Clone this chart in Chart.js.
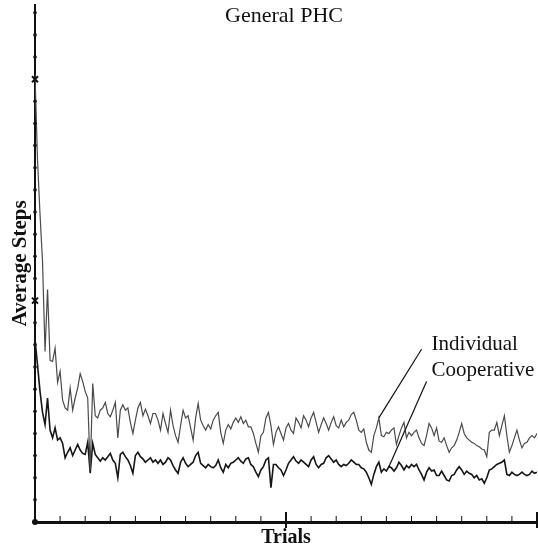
<!DOCTYPE html>
<html>
<head>
<meta charset="utf-8">
<title>General PHC</title>
<script src="https://cdn.jsdelivr.net/npm/chart.js@4.4.0/dist/chart.umd.min.js"></script>
<style>
  html, body { margin: 0; padding: 0; background: #fff; }
  #wrap { width: 538px; height: 552px; }
</style>
</head>
<body>
<div id="wrap"><canvas id="phcChart" width="538" height="552"></canvas></div>
<script>
// --- testi ---
const TITLE = "General PHC";
const X_TITLE = "Trials";
const Y_TITLE = "Average Steps";

// --- dati (un punto per trial) ---
const individual = [
  404, 327, 278, 235, 154, 210, 146, 145, 157, 126, 136, 110, 103, 101, 121, 101, 112, 121, 134, 127,
  118, 112, 47, 125, 96, 94, 101, 103, 108, 98, 95, 101, 108, 76, 101, 106, 101, 103, 90, 80,
  92, 103, 108, 96, 102, 96, 89, 98, 98, 92, 83, 98, 89, 81, 101, 87, 78, 72, 87, 101,
  94, 96, 85, 74, 94, 107, 92, 87, 83, 88, 84, 92, 96, 99, 81, 71, 83, 88, 84, 90,
  94, 90, 95, 89, 92, 86, 86, 80, 71, 63, 78, 81, 94, 99, 87, 70, 81, 86, 80, 74,
  85, 89, 83, 80, 94, 90, 85, 96, 92, 86, 94, 99, 90, 81, 88, 94, 89, 83, 90, 95,
  87, 85, 92, 86, 90, 92, 97, 99, 92, 83, 81, 84, 72, 65, 63, 78, 85, 94, 78, 77,
  81, 80, 83, 85, 70, 78, 85, 90, 76, 81, 78, 81, 83, 76, 71, 69, 78, 89, 85, 78,
  85, 73, 72, 76, 69, 63, 67, 69, 74, 81, 89, 80, 76, 74, 72, 71, 69, 68, 66, 65,
  59, 81, 83, 83, 90, 78, 87, 96, 78, 63, 69, 76, 83, 74, 67, 71, 72, 76, 78, 76,
  80
];
const cooperative = [
  165, 142, 118, 99, 88, 112, 83, 76, 85, 74, 76, 71, 58, 63, 67, 60, 65, 70, 65, 62,
  61, 72, 44, 71, 61, 58, 55, 58, 56, 59, 62, 56, 53, 40, 61, 63, 59, 56, 51, 44,
  60, 63, 59, 57, 54, 56, 58, 54, 56, 53, 56, 52, 54, 58, 56, 51, 47, 44, 54, 58,
  53, 50, 52, 54, 60, 63, 53, 51, 49, 52, 50, 49, 51, 56, 49, 45, 52, 49, 53, 54,
  56, 58, 55, 53, 57, 58, 52, 50, 45, 41, 47, 50, 56, 58, 31, 52, 52, 49, 47, 42,
  47, 53, 56, 59, 55, 53, 56, 54, 52, 50, 56, 59, 52, 49, 52, 53, 58, 60, 57, 54,
  56, 52, 50, 52, 51, 53, 56, 54, 52, 52, 49, 48, 45, 40, 34, 43, 50, 54, 45, 48,
  46, 50, 49, 46, 49, 54, 51, 47, 51, 49, 52, 50, 52, 47, 43, 38, 45, 49, 46, 47,
  42, 42, 46, 42, 38, 37, 42, 43, 47, 50, 47, 43, 46, 44, 43, 40, 42, 38, 39, 35,
  40, 47, 48, 50, 52, 53, 54, 56, 43, 42, 45, 43, 42, 43, 45, 43, 42, 43, 46, 44,
  45
];

// --- assi (nessuna etichetta numerica, solo tacche) ---
const X_MAX = 200, X_STEP = 10, X_MAJOR = 100;
const Y_MAX = 467, Y_STEP = 20, Y_MAJOR = 200;

// etichette con linea di richiamo (coordinate in unità dati)
const callouts = [
  { text: "Individual",  from: [137, individual[137]],  to: [154, 156], at: [158, 155] },
  { text: "Cooperative", from: [141, cooperative[141]], to: [156, 127], at: [158, 132] }
];

const SERIF = '"Liberation Serif", "DejaVu Serif", serif';

// tacche, titolo e richiami disegnati sopra il grafico
const decorPlugin = {
  id: "decor",
  afterDraw(chart){
    const { ctx, chartArea: a, scales: { x, y } } = chart;
    ctx.save();
    ctx.fillStyle = "#111";
    ctx.strokeStyle = "#111";

    // asse y: pallini, croci sulle tacche principali
    for (let v = Y_STEP; v <= Y_MAX; v += Y_STEP) {
      const px = x.getPixelForValue(0), py = y.getPixelForValue(v);
      if (v % Y_MAJOR === 0) {
        ctx.lineWidth = 2;
        ctx.beginPath();
        ctx.moveTo(px - 3, py - 3); ctx.lineTo(px + 3, py + 3);
        ctx.moveTo(px + 3, py - 3); ctx.lineTo(px - 3, py + 3);
        ctx.stroke();
      } else {
        ctx.beginPath(); ctx.arc(px, py, 1.8, 0, Math.PI * 2); ctx.fill();
      }
    }

    // asse x: tacche corte verso l'alto, lunghe sulle principali
    for (let t = X_STEP; t <= X_MAX; t += X_STEP) {
      const px = x.getPixelForValue(t), py = y.getPixelForValue(0);
      const major = t % X_MAJOR === 0;
      ctx.lineWidth = major ? 2 : 1;
      ctx.beginPath();
      ctx.moveTo(px, py - (major ? 10 : 6));
      ctx.lineTo(px, py + (major ? 6 : 0));
      ctx.stroke();
    }

    // origine
    ctx.beginPath();
    ctx.arc(x.getPixelForValue(0), y.getPixelForValue(0), 3, 0, Math.PI * 2);
    ctx.fill();

    // titolo dentro l'area del grafico
    ctx.font = "22px " + SERIF;
    ctx.textAlign = "center";
    ctx.textBaseline = "alphabetic";
    ctx.fillText(TITLE, (a.left + a.right) / 2 - 2, a.top + 17);

    // richiami
    ctx.font = "21px " + SERIF;
    ctx.textAlign = "left";
    ctx.lineWidth = 1.2;
    callouts.forEach(c => {
      ctx.beginPath();
      ctx.moveTo(x.getPixelForValue(c.from[0]), y.getPixelForValue(c.from[1]));
      ctx.lineTo(x.getPixelForValue(c.to[0]), y.getPixelForValue(c.to[1]));
      ctx.stroke();
      ctx.fillText(c.text, x.getPixelForValue(c.at[0]), y.getPixelForValue(c.at[1]));
    });
    ctx.restore();
  }
};

const toXY = arr => arr.map((v, i) => ({ x: i, y: v }));

new Chart(document.getElementById("phcChart"), {
  type: "line",
  data: {
    datasets: [
      { label: "Individual", data: toXY(individual), borderColor: "#4a4a4a", borderWidth: 1.2,
        pointRadius: 0, fill: false, tension: 0 },
      { label: "Cooperative", data: toXY(cooperative), borderColor: "#161616", borderWidth: 1.6,
        pointRadius: 0, fill: false, tension: 0 }
    ]
  },
  options: {
    responsive: false,
    animation: false,
    devicePixelRatio: 1,
    layout: { padding: { top: 5, right: 1, left: 0, bottom: 0 } },
    plugins: { legend: { display: false }, tooltip: { enabled: false }, title: { display: false } },
    scales: {
      x: {
        type: "linear", min: 0, max: X_MAX,
        grid: { display: false, drawTicks: false },
        border: { display: true, color: "#111", width: 3 },
        ticks: { display: false, stepSize: X_STEP },
        title: { display: true, text: X_TITLE, color: "#111",
                 font: { family: SERIF, size: 20, weight: "bold" }, padding: { top: 0, bottom: 2 } },
        afterFit(s){ s.height = 30; }
      },
      y: {
        min: 0, max: Y_MAX,
        grid: { display: false, drawTicks: false },
        border: { display: true, color: "#111", width: 2 },
        ticks: { display: false, stepSize: Y_STEP },
        title: { display: true, text: Y_TITLE, color: "#111",
                 font: { family: SERIF, size: 21, weight: "bold" }, padding: { top: 8, bottom: 0 } },
        afterFit(s){ s.width = 35; }
      }
    }
  },
  plugins: [decorPlugin]
});
</script>
</body>
</html>
